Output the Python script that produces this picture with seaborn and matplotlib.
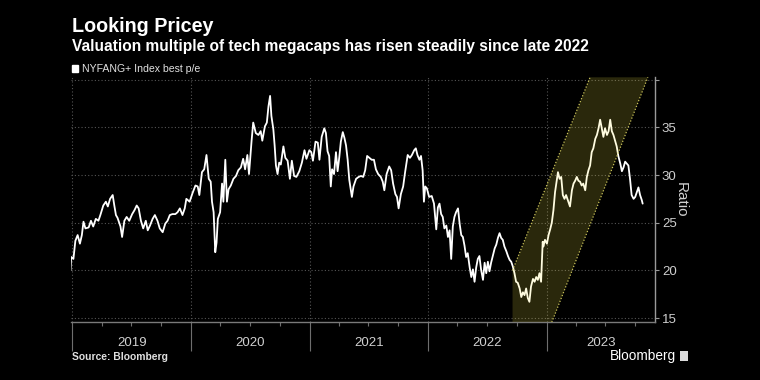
import seaborn as sns
import matplotlib.pyplot as plt
import matplotlib.dates as mdates
import matplotlib.transforms as mtransforms
from matplotlib.patches import Patch, Rectangle
import pandas as pd

# NYFANG+ best p/e (by year)
dates_2019 = ["2018-12-26", "2018-12-28", "2019-01-04", "2019-01-10", "2019-01-17", "2019-01-24", "2019-01-30",
              "2019-02-04", "2019-02-10", "2019-02-20", "2019-02-27", "2019-03-06", "2019-03-14", "2019-03-22",
              "2019-03-28", "2019-04-06", "2019-04-14", "2019-04-20", "2019-04-27", "2019-05-05", "2019-05-10",
              "2019-05-15", "2019-05-20", "2019-05-29", "2019-06-03", "2019-06-10", "2019-06-17", "2019-06-25",
              "2019-07-04", "2019-07-11", "2019-07-18", "2019-07-24", "2019-07-31", "2019-08-07", "2019-08-15",
              "2019-08-21", "2019-08-28", "2019-09-05", "2019-09-12", "2019-09-20", "2019-09-27", "2019-10-06",
              "2019-10-14", "2019-10-21", "2019-10-28", "2019-11-05", "2019-11-14", "2019-11-21", "2019-11-28",
              "2019-12-06", "2019-12-13", "2019-12-18", "2019-12-28"]
ratio_2019 = [20.0, 21.4, 21.2, 23.1, 23.7, 22.8, 23.7,
              25.1, 24.4, 24.5, 25.2, 24.6, 25.4, 25.2,
              25.8, 26.8, 27.2, 26.7, 27.5, 27.9, 26.8,
              25.8, 25.5, 24.6, 23.5, 25.2, 25.6, 25.2,
              25.9, 26.3, 26.8, 26.5, 25.2, 24.4, 25.2,
              24.2, 24.7, 25.4, 25.8, 25.2, 24.4, 24.0,
              24.9, 25.2, 25.8, 25.9, 25.9, 26.1, 26.5,
              25.8, 26.5, 27.5, 27.2]

dates_2020 = ["2020-01-06", "2020-01-15", "2020-01-22", "2020-01-27", "2020-02-04", "2020-02-11", "2020-02-18",
              "2020-02-25", "2020-03-02", "2020-03-06", "2020-03-11", "2020-03-16", "2020-03-20", "2020-03-24",
              "2020-03-31", "2020-04-06", "2020-04-10", "2020-04-16", "2020-04-21", "2020-04-26", "2020-05-03",
              "2020-05-11", "2020-05-19", "2020-05-26", "2020-06-03", "2020-06-10", "2020-06-16", "2020-06-23",
              "2020-06-28", "2020-07-06", "2020-07-11", "2020-07-19", "2020-07-27", "2020-08-03", "2020-08-08",
              "2020-08-16", "2020-08-22", "2020-08-27", "2020-09-01", "2020-09-05", "2020-09-11", "2020-09-15",
              "2020-09-19", "2020-09-24", "2020-09-29", "2020-10-04", "2020-10-12", "2020-10-18", "2020-10-25",
              "2020-11-01", "2020-11-07", "2020-11-14", "2020-11-21", "2020-11-30", "2020-12-08", "2020-12-16",
              "2020-12-22", "2020-12-31"]
ratio_2020 = [28.1, 28.9, 28.8, 27.9, 30.3, 30.6, 32.1,
              29.6, 29.3, 27.2, 26.1, 21.9, 22.9, 25.4,
              26.1, 29.1, 27.2, 31.6, 27.2, 28.5, 28.9,
              29.6, 29.9, 30.5, 30.8, 31.7, 30.6, 32.1,
              30.1, 33.6, 35.5, 34.4, 34.2, 34.6, 33.6,
              35.1, 35.5, 37.2, 38.3, 36.2, 34.8, 33.1,
              31.0, 30.1, 31.3, 31.1, 33.0, 31.8, 31.5,
              29.6, 31.5, 29.9, 29.8, 30.4, 31.3, 32.6,
              31.7, 32.6]

dates_2021 = ["2021-01-06", "2021-01-11", "2021-01-19", "2021-01-26", "2021-01-31", "2021-02-07", "2021-02-15",
              "2021-02-20", "2021-02-25", "2021-03-02", "2021-03-07", "2021-03-11", "2021-03-17", "2021-03-23",
              "2021-03-28", "2021-04-02", "2021-04-07", "2021-04-13", "2021-04-18", "2021-04-23", "2021-04-28",
              "2021-05-03", "2021-05-11", "2021-05-16", "2021-05-24", "2021-06-01", "2021-06-08", "2021-06-15",
              "2021-06-21", "2021-06-27", "2021-07-04", "2021-07-11", "2021-07-18", "2021-07-24", "2021-07-31",
              "2021-08-08", "2021-08-14", "2021-08-19", "2021-08-26", "2021-09-03", "2021-09-09", "2021-09-15",
              "2021-09-22", "2021-09-27", "2021-10-02", "2021-10-09", "2021-10-16", "2021-10-22", "2021-10-30",
              "2021-11-06", "2021-11-12", "2021-11-19", "2021-11-24", "2021-11-29", "2021-12-05", "2021-12-10",
              "2021-12-15", "2021-12-19", "2021-12-23", "2021-12-28"]
ratio_2021 = [32.4, 31.5, 33.5, 33.4, 31.6, 34.0, 34.9,
              34.4, 32.5, 32.0, 28.8, 30.6, 30.1, 32.4,
              30.4, 31.8, 33.5, 34.5, 33.9, 33.1, 31.6,
              29.5, 27.7, 28.8, 29.6, 29.8, 29.9, 29.8,
              30.5, 32.0, 31.8, 31.6, 31.6, 30.6, 30.1,
              29.8, 29.3, 28.4, 30.1, 30.9, 30.5, 29.1,
              28.0, 27.7, 26.5, 28.0, 28.8, 30.3, 32.1,
              31.8, 32.1, 32.6, 32.8, 32.1, 31.6, 32.0,
              30.5, 27.2, 28.8, 28.6]

dates_2022 = ["2022-01-04", "2022-01-12", "2022-01-19", "2022-01-26", "2022-01-31", "2022-02-05", "2022-02-10",
              "2022-02-15", "2022-02-20", "2022-02-26", "2022-03-03", "2022-03-08", "2022-03-13", "2022-03-18",
              "2022-03-23", "2022-03-28", "2022-04-03", "2022-04-08", "2022-04-13", "2022-04-18", "2022-04-23",
              "2022-04-28", "2022-05-03", "2022-05-09", "2022-05-14", "2022-05-19", "2022-05-24", "2022-05-29",
              "2022-06-03", "2022-06-08", "2022-06-13", "2022-06-19", "2022-06-24", "2022-06-29", "2022-07-04",
              "2022-07-09", "2022-07-14", "2022-07-19", "2022-07-25", "2022-07-30", "2022-08-04", "2022-08-09",
              "2022-08-14", "2022-08-19", "2022-08-24", "2022-08-30", "2022-09-04", "2022-09-09", "2022-09-14",
              "2022-09-19", "2022-09-24", "2022-09-29", "2022-10-04", "2022-10-10", "2022-10-15", "2022-10-20",
              "2022-10-25", "2022-10-30", "2022-11-04", "2022-11-09", "2022-11-14", "2022-11-20", "2022-11-25",
              "2022-11-30", "2022-12-05", "2022-12-10", "2022-12-15", "2022-12-20", "2022-12-22", "2022-12-27"]
ratio_2022 = [27.7, 27.8, 27.0, 24.3, 26.6, 27.0, 25.9,
              25.6, 24.4, 24.7, 23.5, 24.2, 21.2, 24.6,
              25.6, 26.1, 26.5, 24.9, 23.7, 23.5, 22.6,
              21.4, 21.8, 20.3, 19.3, 20.1, 18.8, 20.3,
              21.2, 21.5, 20.1, 19.0, 20.8, 19.7, 20.9,
              19.9, 20.8, 21.5, 22.3, 22.7, 23.4, 23.9,
              23.4, 23.2, 22.5, 22.0, 21.5, 21.1, 20.9,
              20.4, 19.7, 18.8, 18.7, 18.1, 17.2, 17.7,
              17.4, 18.1, 17.1, 16.7, 18.3, 19.1, 18.8,
              19.3, 19.0, 19.7, 18.8, 23.0, 22.5, 23.2]

dates_2023 = ["2023-01-02", "2023-01-07", "2023-01-12", "2023-01-17", "2023-01-22", "2023-01-27", "2023-02-02",
              "2023-02-05", "2023-02-10", "2023-02-15", "2023-02-20", "2023-02-25", "2023-03-02", "2023-03-09",
              "2023-03-14", "2023-03-20", "2023-03-25", "2023-03-30", "2023-04-04", "2023-04-09", "2023-04-14",
              "2023-04-19", "2023-04-24", "2023-04-30", "2023-05-05", "2023-05-10", "2023-05-15", "2023-05-20",
              "2023-05-25", "2023-05-31", "2023-06-05", "2023-06-10", "2023-06-15", "2023-06-20", "2023-06-25",
              "2023-06-30", "2023-07-06", "2023-07-11", "2023-07-16", "2023-07-21", "2023-07-26", "2023-07-31",
              "2023-08-05", "2023-08-10", "2023-08-16", "2023-08-21", "2023-08-26", "2023-08-31", "2023-09-05",
              "2023-09-10", "2023-09-15", "2023-09-20", "2023-09-26", "2023-10-01", "2023-10-06", "2023-10-11",
              "2023-10-16", "2023-10-21", "2023-10-24"]
ratio_2023 = [22.8, 23.7, 24.3, 25.0, 26.3, 28.2, 29.6,
              30.3, 29.6, 29.8, 27.9, 27.5, 27.9, 27.2,
              26.7, 28.4, 29.1, 29.4, 29.8, 29.4, 29.3,
              28.9, 29.1, 28.4, 29.8, 30.5, 31.0, 32.4,
              32.8, 33.8, 34.2, 34.9, 35.8, 34.9, 34.0,
              34.9, 34.2, 34.6, 35.8, 34.6, 34.2, 33.6,
              33.0, 32.0, 31.2, 30.4, 30.8, 31.4, 31.2,
              31.0, 29.6, 27.9, 27.5, 27.7, 28.2, 28.7,
              27.9, 27.4, 27.0]

# highlighted channel (corners of the shaded band)
band_dates = ["2022-09-18", "2023-05-15", "2023-11-09", "2023-01-17"]
band_start_value = 20.0

years = [2019, 2020, 2021, 2022, 2023]
y_ticks = [15, 20, 25, 30, 35, 40]
y_ticklabels = ["15", "20", "25", "30", "35", ""]

df = pd.DataFrame({
    "date": pd.to_datetime(dates_2019 + dates_2020 + dates_2021 + dates_2022 + dates_2023),
    "ratio": ratio_2019 + ratio_2020 + ratio_2021 + ratio_2022 + ratio_2023,
})

sns.set_theme(style="dark", rc={
    "figure.facecolor": "black", "axes.facecolor": "black", "savefig.facecolor": "black",
    "text.color": "white", "axes.labelcolor": "#cfcfcf",
    "xtick.color": "#cfcfcf", "ytick.color": "#cfcfcf",
})
plt.rcParams["font.family"] = ["Liberation Sans Narrow", "Liberation Sans", "DejaVu Sans"]

fig = plt.figure(figsize=(7.6, 3.8), dpi=100)
ax = fig.add_axes([70.5 / 760, 1 - 322.3 / 380, (655 - 70.5) / 760, (322.3 - 77.3) / 380])

ymin, ymax = 14.55, 40.25
xmin, xmax = pd.Timestamp("2018-12-26"), pd.Timestamp("2023-12-01")

# band (drawn above the line so the line looks cream inside it)
b = pd.to_datetime(band_dates)
ax.fill([b[0], b[0], b[1], b[2], b[3]], [ymin, band_start_value, ymax, ymax, ymin],
        color="#fff04a", alpha=0.17, lw=0, zorder=4)
ax.plot([b[0], b[1]], [band_start_value, ymax], color="#c9c25a", lw=0.9, ls=(0, (1, 1.5)), zorder=5)
ax.plot([b[3], b[2]], [ymin, ymax], color="#c9c25a", lw=0.9, ls=(0, (1, 1.5)), zorder=5)

sns.lineplot(data=df, x="date", y="ratio", color="white", linewidth=1.3, ax=ax, zorder=3)

ax.set_xlim(xmin, xmax)
ax.set_ylim(ymin, ymax)

# x axis: year separators + quarter ticks, labels centred in each year
ax.xaxis.set_major_locator(mdates.YearLocator())
ax.xaxis.set_minor_locator(mdates.MonthLocator(bymonth=[4, 7, 10]))
ax.xaxis.set_major_formatter(plt.NullFormatter())
ax.tick_params(axis="x", which="major", length=21, width=0.8, color="#6e6e6e", bottom=True)
ax.tick_params(axis="x", which="minor", length=3, width=0.8, color="#6e6e6e", bottom=True)
trans = mtransforms.blended_transform_factory(ax.transData, fig.transFigure)
for yr in years:
    lo = mdates.date2num(pd.Timestamp(f"{yr}-01-01"))
    hi = min(mdates.date2num(pd.Timestamp(f"{yr + 1}-01-01")), mdates.date2num(xmax))
    ax.text((lo + hi) / 2, 1 - 343 / 380, str(yr), transform=trans, ha="center", va="center",
            fontsize=9.5, color="#d0d0d0")

# y axis on the right
ax.yaxis.tick_right()
ax.yaxis.set_label_position("right")
ax.set_yticks(y_ticks)
ax.set_yticklabels(y_ticklabels)
ax.tick_params(axis="y", which="major", length=3, width=0.8, color="#9a9a9a", right=True,
               labelsize=9.5, pad=2)
ax.set_ylabel("Ratio", rotation=270, labelpad=8, fontsize=11, color="#d0d0d0")
ax.set_xlabel("")

ax.grid(True, which="major", color="#555555", lw=0.8, ls=(0, (1, 2)))
for side in ["top", "left"]:
    ax.spines[side].set_visible(False)
ax.spines["bottom"].set_color("#7a7a7a")
ax.spines["right"].set_color("#9a9a9a")
ax.spines["bottom"].set_linewidth(1)
ax.spines["right"].set_linewidth(1)

# titles, legend and footer
fig.text(72 / 760, 1 - 27 / 380, "Looking Pricey", fontsize=14.2, fontweight="bold", va="center", color="white")
fig.text(72 / 760, 1 - 47 / 380, "Valuation multiple of tech megacaps has risen steadily since late 2022",
         fontsize=11.2, fontweight="bold", va="center", color="white")
fig.legend(handles=[Patch(color="white", label="NYFANG+ Index best p/e")], loc="center left",
           bbox_to_anchor=(72 / 760, 1 - 69 / 380), frameon=False, fontsize=7.6, handlelength=0.6,
           handleheight=0.6, handletextpad=0.3, borderpad=0, borderaxespad=0, labelcolor="#e0e0e0")
fig.text(72 / 760, 1 - 357 / 380, "Source: Bloomberg", fontsize=7.4, fontweight="bold", va="center", color="#e0e0e0")
fig.text(676 / 760, 1 - 356 / 380, "Bloomberg", fontsize=9.8, va="center", ha="right", color="white")
fig.patches.append(Rectangle((680 / 760, 1 - 361 / 380), 8 / 760, 10 / 380, transform=fig.transFigure,
                             facecolor="#dcdcdc", edgecolor="none"))

fig.savefig("out.png", dpi=100)
